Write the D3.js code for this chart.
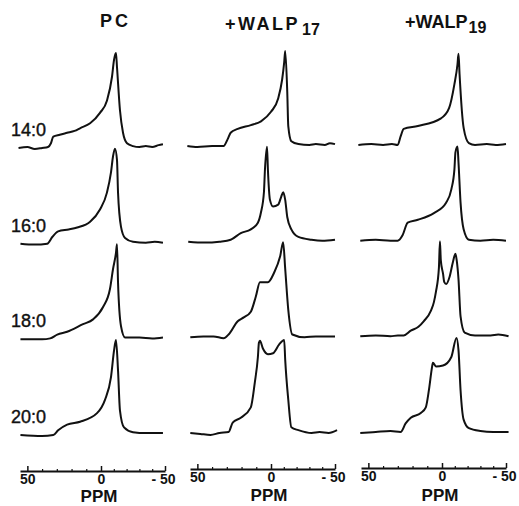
<!DOCTYPE html>
<html>
<head>
<meta charset="utf-8">
<script src="https://cdn.jsdelivr.net/npm/d3@7"></script>
<style>
  body { margin: 0; background: #fff; }
  svg text { font-family: "Liberation Sans", Arial, sans-serif; fill: #111; }
</style>
</head>
<body>
<svg id="chart" width="519" height="506"></svg>
<script>
// 31P NMR spectra, [ppm, relative intensity]

let width = 519, height = 506

var rows = ['14:0', '16:0', '18:0', '20:0']
var columns = [
    {main: 'PC', sub: ''},
    {main: '+WALP', sub: '17'},
    {main: '+WALP', sub: '19'}
]
var majorTicks = [50, 0, -50]
var minorTicks = [40, 30, 20, 10, -10, -20, -30, -40]

// PC
var pc14 = [[56,0],[50,0.01],[45,-0.01],[40,0],[36,0.01],[34,0.05],[32.4,0.12],[28,0.14],[23,0.16],[18,0.18],[14,0.21],[7.4,0.26],[0.7,0.37],[-4.7,0.5],[-8.6,0.75],[-10.2,0.93],[-11.7,1.0],[-12.5,0.85],[-14.8,0.4],[-17.2,0.16],[-20.3,0.05],[-25,0.02],[-30,0.01],[-35,0.02],[-40,0.01],[-45,0.03],[-48.4,0.04]]
var pc16 = [[54.7,0],[45,-0.01],[36.5,0],[33.1,0.07],[29.1,0.13],[22,0.15],[16.2,0.17],[7.4,0.23],[0.7,0.36],[-4.7,0.54],[-7.8,0.75],[-9.4,0.92],[-10.9,1.0],[-12.5,0.88],[-13.3,0.54],[-15.6,0.18],[-18.8,0.06],[-25,0.02],[-35,0.01],[-42,0.02],[-48.4,0.01]]
var pc18 = [[54.7,0],[40,0],[34.5,0.01],[29.7,0.05],[23,0.08],[12.2,0.16],[5.4,0.21],[-1.6,0.34],[-7,0.53],[-9.4,0.74],[-11.7,0.91],[-12.5,1.0],[-13.3,0.6],[-15.6,0.14],[-18.8,0.02],[-30,0.02],[-40,0.01],[-48.4,0.02]]
var pc20 = [[54.7,0],[40,-0.01],[32.4,0],[29.1,0.05],[23,0.11],[14.2,0.14],[2.7,0.23],[-3.1,0.37],[-7.8,0.61],[-10.2,0.89],[-11.7,1.0],[-13.3,0.68],[-14.8,0.26],[-18,0.08],[-25,0.03],[-35,0.02],[-48.4,0.02]]

// +WALP17
var w17_14 = [[56.8,0],[50,-0.01],[40,0],[32.2,0],[29.5,0.07],[27.4,0.14],[22.6,0.18],[13.7,0.22],[6.8,0.26],[0,0.36],[-5.6,0.5],[-8.7,0.7],[-10.3,0.88],[-11.1,1.0],[-12.7,0.57],[-13.5,0.21],[-15.9,0.05],[-21.4,0.02],[-30,0.01],[-35,0.02],[-42,0.01],[-46,0.03],[-50,0.02]]
var w17_16 = [[56.2,0],[45,-0.01],[35,0],[27.4,0.02],[20.5,0.09],[13.7,0.13],[8.9,0.2],[6.8,0.31],[4.8,0.52],[4.1,0.76],[2.7,1.0],[2.1,0.76],[0.7,0.44],[-1.6,0.37],[-5.6,0.39],[-7.9,0.47],[-9.5,0.52],[-11.1,0.44],[-12.7,0.26],[-15.9,0.13],[-21.4,0.05],[-31.7,0.02],[-40,0.01],[-50,0.02]]
var w17_18 = [[54.8,0],[45.9,0.01],[39,0.01],[32.2,-0.01],[28.8,0.03],[22.6,0.17],[18.5,0.21],[13.7,0.27],[10.3,0.43],[7.5,0.58],[2.1,0.58],[-2.4,0.68],[-7.1,0.85],[-9.5,1.0],[-11.1,0.72],[-13.5,0.29],[-16.7,0.03],[-26.2,0],[-35,0.01],[-42,0.01],[-50,0.01]]
var w17_20 = [[54.8,0],[48,-0.01],[41.1,-0.02],[35,0],[28.8,0.01],[26,0.11],[20.5,0.16],[13.7,0.27],[11,0.53],[8.9,0.8],[8.2,0.95],[7.5,0.97],[5.5,0.89],[2.1,0.83],[-1.6,0.84],[-6.3,0.93],[-10.3,0.98],[-11.1,0.77],[-13.5,0.35],[-15.9,0.06],[-21.4,0.03],[-31.7,0],[-38,0.01],[-45,0],[-51.6,0.03]]

// +WALP19
var w19_14 = [[56.8,0],[48,0.01],[40,0],[34,0.01],[30.1,0],[28.1,0.09],[26,0.17],[16.4,0.2],[0.7,0.28],[-5.6,0.39],[-9.7,0.64],[-12.1,0.85],[-12.9,0.96],[-13.7,0.75],[-16.9,0.18],[-21,0.02],[-25.8,0],[-35,0.01],[-42,0],[-50,0.01]]
var w19_16 = [[55.5,0],[45,0.01],[35,0],[30.1,0],[26.7,0.06],[23.3,0.19],[16.4,0.22],[5.5,0.29],[-3.2,0.4],[-7.3,0.54],[-9.7,0.75],[-10.5,0.93],[-12.1,0.99],[-12.9,0.82],[-14.5,0.4],[-16.9,0.12],[-21,0.01],[-30,0],[-40,0.01],[-50,0]]
var w19_18 = [[55.5,0],[45,0.01],[35,0],[30,0.01],[26,0.01],[21.2,0.06],[16,0.1],[12.3,0.16],[7.5,0.27],[5.5,0.36],[4.1,0.47],[2.1,0.72],[1.4,1.0],[0.8,0.8],[-0.8,0.66],[-1.8,0.57],[-3.2,0.55],[-6,0.63],[-8.5,0.78],[-10.5,0.87],[-11.5,0.8],[-12.9,0.6],[-14.5,0.21],[-17.7,0.04],[-25.8,0.01],[-38,0.01],[-44,0.02],[-52,0]]
var w19_20 = [[55.5,-0.01],[45,0],[35,0.01],[28.1,0],[24.7,0.09],[21.2,0.15],[14.4,0.2],[11,0.26],[8.9,0.44],[6.8,0.68],[6.2,0.73],[4.1,0.69],[-0.8,0.7],[-7.3,0.79],[-11.3,0.99],[-12.9,0.86],[-14.5,0.44],[-16.9,0.13],[-21,0.04],[-30,0.01],[-40,0],[-52,0]]

// rows x columns
var spectra = [
    [pc14, w17_14, w19_14],
    [pc16, w17_16, w19_16],
    [pc18, w17_18, w19_18],
    [pc20, w17_20, w19_20]
]

// layout
var panelX = [27, 197, 368]
var panelDy = [0, -2, -3]
var peakHeight = 95
var axisY = 471

var svg = d3.select('#chart')

var rowY = d3.scalePoint().domain(rows).range([148, 435])

function xScale(p) {
    return d3.scaleLinear()
        .domain([55, 0, -50])
        .range([-7, 74, 138].map(v => v + panelX[p]))
}

columns.forEach((col, p) => {
    var x = xScale(p)
    var g = svg.append('g').attr('class', 'panel')

    rows.forEach((r, i) => {
        var base = rowY(r) + panelDy[p]
        var y = d3.scaleLinear().domain([0, 1]).range([base, base - peakHeight])
        var line = d3.line()
            .x(d => x(d[0]))
            .y(d => y(d[1]))
            .curve(d3.curveMonotoneX)

        g.append('path')
            .datum(spectra[i][p])
            .attr('d', line)
            .attr('fill', 'none')
            .attr('stroke', '#111')
            .attr('stroke-width', 2)
            .attr('stroke-linejoin', 'round')
    })

    // minor ticks
    g.append('g')
        .attr('transform', `translate(0,${axisY + panelDy[p]})`)
        .call(d3.axisBottom(x).tickValues(minorTicks).tickSizeInner(-2).tickSizeOuter(0).tickFormat(''))
        .call(a => a.select('.domain').remove())
        .selectAll('line').attr('stroke', '#111').attr('stroke-width', 1.2)

    // main axis
    var ax = g.append('g')
        .attr('transform', `translate(0,${axisY + panelDy[p]})`)
        .call(d3.axisBottom(x).tickValues(majorTicks).tickSizeInner(-5).tickSizeOuter(0).tickPadding(3)
            .tickFormat(d => d < 0 ? '- ' + (-d) : d))
    ax.select('.domain').attr('stroke', '#111').attr('stroke-width', 2)
    ax.selectAll('.tick line').attr('stroke', '#111').attr('stroke-width', 1.5)
    ax.selectAll('.tick text')
        .style('font-size', '14px')
        .style('font-weight', 'bold')
        .attr('fill', '#111')
    ax.selectAll('.tick').filter(d => d < 0).select('text')
        .attr('text-anchor', 'end').attr('x', 10)

    g.append('text')
        .attr('x', x(0) - 2)
        .attr('y', 502 + panelDy[p] / 2)
        .attr('text-anchor', 'middle')
        .style('font-size', '17px')
        .style('font-weight', 'bold')
        .text('PPM')
})

// column titles
var titlePos = [
    {x: 100, y: 27, spacing: 3},
    {x: 225, y: 30, spacing: 2.5},
    {x: 405, y: 28, spacing: 0}
]
columns.forEach((col, p) => {
    var t = svg.append('text')
        .attr('x', titlePos[p].x)
        .attr('y', titlePos[p].y)
        .style('font-size', '18px')
        .style('font-weight', 'bold')
    t.append('tspan')
        .style('letter-spacing', titlePos[p].spacing + 'px')
        .text(col.main)
    if (col.sub) {
        t.append('tspan')
            .attr('dx', p == 1 ? 2 : 1)
            .attr('dy', 5)
            .style('font-size', '16px')
            .text(col.sub)
    }
})

// row labels
svg.selectAll('.rowlabel')
    .data(rows)
    .enter()
    .append('text')
    .attr('class', 'rowlabel')
    .attr('x', 11)
    .attr('y', d => rowY(d) - 12)
    .style('font-size', '18px')
    .attr('stroke', '#111')
    .attr('stroke-width', 0.4)
    .text(d => d)
</script>
</body>
</html>
